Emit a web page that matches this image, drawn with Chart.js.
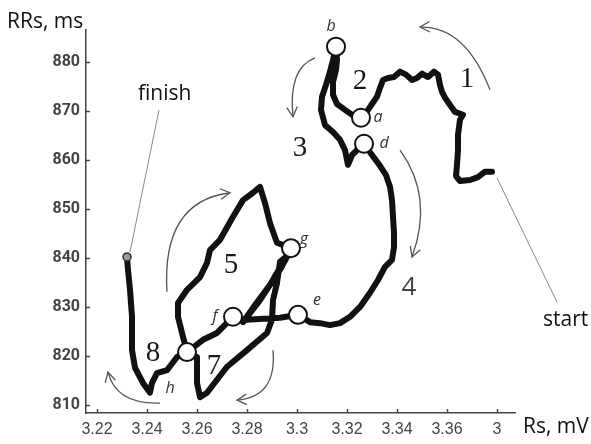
<!DOCTYPE html>
<html lang="en">
<head>
<meta charset="UTF-8">
<title>RRs vs Rs trajectory</title>
<script src="https://cdn.jsdelivr.net/npm/chart.js"></script>
<style>
  html, body { margin: 0; padding: 0; background: #fff; }
  #wrap { width: 591px; height: 444px; }
</style>
</head>
<body>
<div id="wrap"><canvas id="trajChart" width="591" height="444"></canvas></div>
<script>
// trajectory, from "start" to "finish"
const rsPath = [
  3.378, 3.3752, 3.3724, 3.3692, 3.3652, 3.3636, 3.364, 3.3644, 3.3644, 3.3652,
  3.3664, 3.3632, 3.3612, 3.3592, 3.358, 3.3572, 3.3564, 3.3548, 3.3524, 3.35,
  3.348, 3.346, 3.3436, 3.3412, 3.3388, 3.3364, 3.3344, 3.3332, 3.332, 3.33,
  3.3284, 3.3256, 3.322, 3.3192, 3.316, 3.3144, 3.3144, 3.3156, 3.316, 3.3156,
  3.3144, 3.3132, 3.3116, 3.31, 3.3096, 3.3112, 3.3144, 3.3172, 3.3192, 3.3204,
  3.322, 3.324, 3.3252, 3.3268, 3.33, 3.3332, 3.3356, 3.3372, 3.338, 3.3384,
  3.3388, 3.3388, 3.338, 3.3352, 3.3324, 3.3292, 3.3252, 3.3212, 3.3172, 3.3132,
  3.3092, 3.3052, 3.3004, 3.2932, 3.2864, 3.28, 3.2744, 3.268, 3.2624, 3.256,
  3.2544, 3.2524, 3.2524, 3.256, 3.2612, 3.264, 3.2652, 3.2692, 3.2744, 3.2784,
  3.2824, 3.2852, 3.2872, 3.2892, 3.292, 3.2976, 3.2892, 3.2832, 3.2784, 3.2852,
  3.2932, 3.2964, 3.2932, 3.292, 3.2904, 3.29, 3.288, 3.28, 3.272, 3.264,
  3.2612, 3.26, 3.26, 3.256, 3.252, 3.248, 3.244, 3.242, 3.2412, 3.2384,
  3.2352, 3.234, 3.234, 3.2332, 3.2324, 3.232
];
const rrPath = [
  857.6, 857.6, 856.5, 855.9, 855.7, 856.7, 859.0, 862.0, 865.1, 868.2,
  869.2, 869.8, 871.2, 872.7, 873.9, 875.3, 877.4, 878.0, 876.9, 877.6,
  876.7, 876.3, 877.4, 878.0, 876.9, 876.7, 876.3, 874.7, 872.9, 871.4,
  870.2, 868.6, 869.2, 870.2, 871.4, 873.3, 875.9, 878.4, 880.4, 883.1,
  880.4, 878.0, 875.3, 872.9, 870.2, 867.1, 865.7, 864.1, 862.0, 859.0,
  861.0, 862.0, 862.7, 863.3, 861.0, 858.8, 856.9, 854.5, 851.8, 848.4,
  845.1, 842.2, 839.6, 838.2, 835.5, 832.9, 830.0, 828.0, 826.7, 826.3,
  826.7, 826.9, 828.4, 827.8, 827.6, 827.4, 828.0, 824.7, 823.3, 820.8,
  823.9, 828.0, 830.8, 833.5, 836.1, 839.0, 841.6, 843.7, 848.4, 851.8,
  853.3, 854.5, 851.2, 847.1, 843.1, 842.0, 834.5, 830.4, 826.9, 831.4,
  837.6, 840.6, 839.2, 834.9, 831.4, 827.4, 824.7, 821.2, 817.8, 812.5,
  811.6, 814.5, 819.8, 820.8, 819.8, 817.1, 816.5, 814.5, 812.5, 814.5,
  817.6, 821.2, 828.0, 833.5, 837.6, 840.2
];

// marked moments on the trajectory (open circles)
const markNames = ['b', 'a', 'd', 'e', 'f', 'g', ''];
const markRs = [3.3156, 3.3256, 3.3268, 3.3004, 3.2744, 3.2976, 3.256];
const markRr = [883.1, 868.6, 863.3, 828.4, 828.0, 842.0, 820.8];

// end point of the recording
const finishRs = [3.232];
const finishRr = [840.2];

const xTicks = [3.22, 3.24, 3.26, 3.28, 3.30, 3.32, 3.34, 3.36, 3.38];
const xTickLabels = ['3.22', '3.24', '3.26', '3.28', '3.3', '3.32', '3.34', '3.36', '3'];
const yTicks = [810, 820, 830, 840, 850, 860, 870, 880];

// annotation layer (data coordinates)
const segmentNums = [
  { t: '1', at: [3.368, 876.5], serif: true },
  { t: '2', at: [3.3252, 876.1], serif: true },
  { t: '3', at: [3.3012, 862.4], serif: true },
  { t: '4', at: [3.3448, 833.9], serif: false },
  { t: '5', at: [3.2736, 838.4], serif: true },
  { t: '7', at: [3.2668, 817.8], serif: true },
  { t: '8', at: [3.2424, 820.6], serif: true }
];
const letterSpots = [
  { t: 'b', at: [3.3136, 887.3] },
  { t: 'a', at: [3.3324, 868.6] },
  { t: 'd', at: [3.3348, 863.3] },
  { t: 'e', at: [3.308, 831.4] },
  { t: 'g', at: [3.3028, 843.7] },
  { t: 'f', at: [3.2672, 828.0] },
  { t: 'h', at: [3.2492, 813.3] }
];
// curved arrows: start, control, end
const arrows = [
  [[3.3772, 874.3], [3.3672, 887.4], [3.3492, 887.1]],
  [[3.3072, 880.8], [3.2964, 878.7], [3.2984, 868.8]],
  [[3.3412, 862.0], [3.3548, 852.5], [3.346, 840.2]],
  [[3.248, 833.1], [3.2458, 851.5], [3.2732, 853.3]],
  [[3.2904, 821.2], [3.292, 811.6], [3.276, 811.0]],
  [[3.2452, 810.4], [3.2276, 810.1], [3.2244, 816.7]]
];
const leaders = [
  { from: [3.2332, 841.2], to: [3.2448, 870.2], text: 'finish', textAt: [3.2364, 872.2] },
  { from: [3.380, 856.3], to: [3.404, 831.0], text: 'start', textAt: [3.3984, 826.1] }
];

const annotate = {
  id: 'annotate',
  afterDatasetsDraw(chart) {
    const { ctx, chartArea, scales: { x, y } } = chart;
    const px = v => x.getPixelForValue(v);
    const py = v => y.getPixelForValue(v);
    ctx.save();

    // tick marks pointing inward
    ctx.strokeStyle = '#444';
    ctx.lineWidth = 1.5;
    ctx.beginPath();
    xTicks.forEach(v => {
      const p = Math.round(px(v)) + 0.5;
      ctx.moveTo(p, chartArea.bottom);
      ctx.lineTo(p, chartArea.bottom - 4);
    });
    yTicks.forEach(v => {
      const p = Math.round(py(v)) + 0.5;
      ctx.moveTo(chartArea.left, p);
      ctx.lineTo(chartArea.left + 4, p);
    });
    ctx.stroke();

    // leader lines + start / finish text
    ctx.strokeStyle = '#8a8a8a';
    ctx.lineWidth = 1;
    ctx.fillStyle = '#111';
    ctx.font = '21px "Open Sans", sans-serif';
    ctx.textAlign = 'left';
    ctx.textBaseline = 'alphabetic';
    leaders.forEach(l => {
      ctx.beginPath();
      ctx.moveTo(px(l.from[0]), py(l.from[1]));
      ctx.lineTo(px(l.to[0]), py(l.to[1]));
      ctx.stroke();
      ctx.fillText(l.text, px(l.textAt[0]), py(l.textAt[1]));
    });

    // curved arrows
    ctx.strokeStyle = '#555';
    ctx.lineWidth = 1.3;
    arrows.forEach(([s, c, e]) => {
      const S = [px(s[0]), py(s[1])], C = [px(c[0]), py(c[1])], E = [px(e[0]), py(e[1])];
      ctx.beginPath();
      ctx.moveTo(S[0], S[1]);
      ctx.quadraticCurveTo(C[0], C[1], E[0], E[1]);
      ctx.stroke();
      const ang = Math.atan2(E[1] - C[1], E[0] - C[0]);
      const len = 11, spread = 0.5;
      ctx.beginPath();
      ctx.moveTo(E[0] - len * Math.cos(ang - spread), E[1] - len * Math.sin(ang - spread));
      ctx.lineTo(E[0], E[1]);
      ctx.lineTo(E[0] - len * Math.cos(ang + spread), E[1] - len * Math.sin(ang + spread));
      ctx.stroke();
    });

    // segment numbers
    ctx.textAlign = 'center';
    ctx.textBaseline = 'middle';
    segmentNums.forEach(n => {
      if (n.serif) {
        ctx.font = '29px "Liberation Serif", "Times New Roman", serif';
        ctx.fillStyle = '#1a1a1a';
      } else {
        ctx.font = '26px "Open Sans", sans-serif';
        ctx.fillStyle = '#444';
      }
      ctx.fillText(n.t, px(n.at[0]), py(n.at[1]));
    });

    // letters beside the marks
    ctx.font = 'italic 16px "Open Sans", sans-serif';
    ctx.fillStyle = '#333';
    letterSpots.forEach(l => ctx.fillText(l.t, px(l.at[0]), py(l.at[1])));

    // axis titles
    ctx.fillStyle = '#111';
    ctx.font = '21px "Open Sans", sans-serif';
    ctx.textAlign = 'left';
    ctx.textBaseline = 'alphabetic';
    ctx.fillText('RRs, ms', chartArea.left - 79, chartArea.top - 2);
    ctx.fillText('Rs, mV', chartArea.right + 8, chartArea.bottom + 20);

    ctx.restore();
  }
};

const ctx = document.getElementById('trajChart').getContext('2d');
new Chart(ctx, {
  type: 'scatter',
  data: {
    datasets: [
      {
        label: 'marks',
        data: markRs.map((v, i) => ({ x: v, y: markRr[i] })),
        pointRadius: 9,
        pointBorderWidth: 2,
        borderColor: '#111',
        backgroundColor: '#fff',
        order: 0
      },
      {
        label: 'finish',
        data: finishRs.map((v, i) => ({ x: v, y: finishRr[i] })),
        pointRadius: 4,
        pointBorderWidth: 1.5,
        borderColor: '#333',
        backgroundColor: '#999',
        order: 1
      },
      {
        label: 'RRs(Rs)',
        data: rsPath.map((v, i) => ({ x: v, y: rrPath[i] })),
        showLine: true,
        borderColor: '#111',
        borderWidth: 6,
        borderJoinStyle: 'round',
        borderCapStyle: 'round',
        pointRadius: 0,
        tension: 0,
        order: 2
      }
    ]
  },
  options: {
    responsive: false,
    animation: false,
    layout: { padding: { top: 30, right: 76, left: 0, bottom: 0 } },
    plugins: { legend: { display: false }, tooltip: { enabled: false } },
    scales: {
      x: {
        type: 'linear',
        min: 3.2156,
        max: 3.3872,
        afterBuildTicks: s => { s.ticks = xTicks.map(v => ({ value: v })); },
        afterFit: s => { s.height = 31; },
        grid: { drawOnChartArea: false, drawTicks: false },
        border: { display: true, color: '#444', width: 1.5 },
        ticks: {
          autoSkip: false,
          maxRotation: 0,
          padding: 7,
          color: '#444',
          font: { family: 'Arial, "Liberation Sans", sans-serif', size: 16 },
          callback: (value, index) => xTickLabels[index]
        }
      },
      y: {
        type: 'linear',
        min: 808.37,
        max: 886.5,
        afterBuildTicks: s => { s.ticks = yTicks.map(v => ({ value: v })); },
        afterFit: s => { s.width = 86; },
        grid: { drawOnChartArea: false, drawTicks: false },
        border: { display: true, color: '#444', width: 1.5 },
        ticks: {
          padding: 6,
          color: '#444',
          font: { family: 'Roboto, Arial, sans-serif', size: 16, weight: 'bold' }
        }
      }
    }
  },
  plugins: [annotate]
});
</script>
</body>
</html>
